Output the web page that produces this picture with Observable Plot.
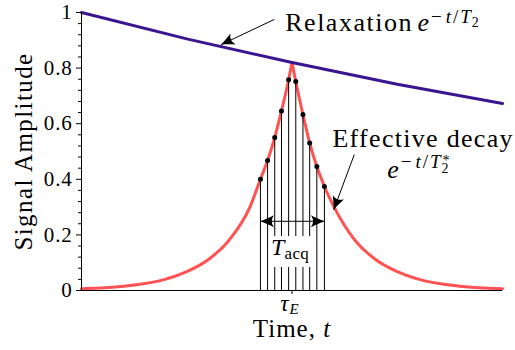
<!DOCTYPE html>
<html>
<head>
<meta charset="utf-8">
<script src="https://cdn.jsdelivr.net/npm/d3@7"></script>
<script src="https://cdn.jsdelivr.net/npm/@observablehq/plot@0.6"></script>
<style>
  body { margin: 0; background: #fff; }
</style>
</head>
<body>
<div id="chart"></div>
<script>
// Echo time (centre of the time axis, arbitrary units)
const tauE = 5;

// Slow T2 relaxation envelope
const relaxT = [0, 2.5, 5, 7.5, 10];
const relaxV = [1, 0.905, 0.82, 0.742, 0.673];

// Effective T2* signal: refocusing up to the echo, then decaying
const riseT = [0, 1, 2, 2.5, 3, 3.5, 4, 4.25, 4.42, 4.59, 4.75, 4.92, 5];
const riseV = [0.006, 0.015, 0.041, 0.068, 0.11, 0.18, 0.30, 0.40, 0.468, 0.55, 0.646, 0.758, 0.82];
const fallT = [5, 5.09, 5.26, 5.42, 5.59, 5.77, 6, 6.5, 7, 7.5, 8, 9, 10];
const fallV = [0.82, 0.752, 0.633, 0.531, 0.446, 0.374, 0.30, 0.18, 0.11, 0.068, 0.041, 0.015, 0.006];

// Samples taken during the acquisition window T_acq
const sampleT = [4.25, 4.42, 4.59, 4.75, 4.92, 5.09, 5.26, 5.42, 5.59, 5.77];
const sampleV = [0.40, 0.468, 0.55, 0.646, 0.758, 0.752, 0.633, 0.531, 0.446, 0.374];

// Amplitude axis ticks
const yTicks = [0, 0.2, 0.4, 0.6, 0.8, 1];
const yMinor = [0.04, 0.08, 0.12, 0.16, 0.24, 0.28, 0.32, 0.36, 0.44, 0.48, 0.52, 0.56,
                0.64, 0.68, 0.72, 0.76, 0.84, 0.88, 0.92, 0.96];

const relax = relaxT.map((t, i) => ({t, v: relaxV[i]}));
const decay = [
  ...riseT.map((t, i) => ({t, v: riseV[i], side: "rise"})),
  ...fallT.map((t, i) => ({t, v: fallV[i], side: "fall"}))
];
const samples = sampleT.map((t, i) => ({t, v: sampleV[i]}));

const serif = "'Liberation Serif', 'Times New Roman', serif";
const red = "#ff5252";
const indigo = "#3b148f";
const acqMid = 5.01;
const acqY = 0.249;

const at = (v) => () => v;
const label = (x, y, text, opts = {}) =>
  Plot.text([0], {x: at(x), y: at(y), text: at(text), textAnchor: "start", lineAnchor: "bottom", ...opts});

const svg = Plot.plot({
  width: 515,
  height: 350,
  marginLeft: 81,
  marginRight: 13,
  marginTop: 12,
  marginBottom: 60,
  x: {domain: [0, 10], label: null},
  y: {domain: [0, 1], label: null},
  style: {fontSize: "21px", color: "black", background: "white"},
  marks: [
    // T2* decay curve (two branches so the echo peak stays sharp)
    Plot.line(decay, {x: "t", y: "v", z: "side", stroke: red, strokeWidth: 3, curve: "monotone-x"}),
    // sample stems and points
    Plot.ruleX(samples, {x: "t", y1: 0, y2: "v", stroke: "black", strokeWidth: 1}),
    Plot.dot(samples, {x: "t", y: "v", r: 2.5, fill: "black"}),
    // label box for T_acq
    Plot.rect([0], {x1: at(4.47), x2: at(5.5), y1: at(0.083), y2: at(0.194), fill: "white"}),
    label(4.5, 0.126, "Tacq", {fontSize: 24}),
    // double arrow spanning the acquisition window
    Plot.link([0], {x1: at(acqMid), x2: at(sampleT[0]), y1: at(acqY), y2: at(acqY), stroke: "black", strokeWidth: 1}),
    Plot.link([0], {x1: at(acqMid), x2: at(sampleT[sampleT.length - 1]), y1: at(acqY), y2: at(acqY), stroke: "black", strokeWidth: 1}),
    // T2 relaxation envelope
    Plot.line(relax, {x: "t", y: "v", stroke: indigo, strokeWidth: 3}),
    // axes
    Plot.axisY({ticks: yMinor, tickSize: 3, tickFormat: () => "", label: null}),
    Plot.axisY({ticks: yTicks, tickSize: 5, tickPadding: 4, tickFormat: (d) => String(d), label: null, fontSize: 21}),
    Plot.axisX({ticks: [tauE], tickSize: 4, tickFormat: () => "", label: null}),
    Plot.ruleX([0], {stroke: "black", strokeWidth: 1}),
    Plot.ruleY([0], {stroke: "black", strokeWidth: 1}),
    // annotations
    label(4.84, 0.933, "Relaxation", {fontSize: 26}),
    label(7.98, 0.933, "e−t/T2", {fontSize: 26}),
    label(5.96, 0.515, "Effective decay", {fontSize: 26}),
    label(7.26, 0.403, "e−t/T2*", {fontSize: 26}),
    Plot.link([0], {x1: at(4.58), y1: at(0.975), x2: at(3.31), y2: at(0.884), stroke: "black", strokeWidth: 1}),
    Plot.link([0], {x1: at(6.48), y1: at(0.489), x2: at(5.99), y2: at(0.29), stroke: "black", strokeWidth: 1}),
    // axis titles
    label(4.72, -0.074, "τE", {fontSize: 23}),
    label(tauE, -0.168, "Time, t", {fontSize: 25, textAnchor: "middle"}),
    Plot.text([0], {frameAnchor: "left", y: at(0.5), text: at("Signal Amplitude"), rotate: -90,
      textAnchor: "middle", lineAnchor: "middle", dx: -58, fontSize: 25})
  ]
});

const NS = "http://www.w3.org/2000/svg";

// Serif face throughout, set on each text so it wins over the default stylesheet
for (const text of svg.querySelectorAll("text")) {
  text.setAttribute("font-family", serif);
  text.style.fontFamily = serif;
}
svg.querySelectorAll('g[aria-label="y-axis tick label"] text').forEach((t) => t.setAttribute("letter-spacing", 0.8));

// Replace a text's plain content with styled runs (italics, super/subscripts)
function rich(plain, parts, spacing) {
  for (const text of svg.querySelectorAll("text")) {
    if (text.textContent !== plain) continue;
    text.textContent = "";
    if (spacing != null) text.setAttribute("letter-spacing", spacing);
    let shift = 0;
    for (const p of parts) {
      const ts = document.createElementNS(NS, "tspan");
      ts.textContent = p.s;
      if (p.i) ts.setAttribute("font-style", "italic");
      if (p.size) ts.setAttribute("font-size", p.size);
      const up = p.up || 0;
      if (up !== shift) ts.setAttribute("dy", shift - up);
      shift = up;
      if (p.dx) ts.setAttribute("dx", p.dx);
      text.appendChild(ts);
    }
  }
}

rich("Relaxation", [{s: "Relaxation"}], 1.5);
rich("Effective decay", [{s: "Effective decay"}], 1.3);
rich("e−t/T2", [
  {s: "e", i: true},
  {s: "−", size: 19, up: 8, dx: 1},
  {s: "t", i: true, size: 19, up: 8, dx: 3},
  {s: "/", size: 19, up: 8, dx: 1},
  {s: "T", i: true, size: 19, up: 8, dx: 1},
  {s: "2", size: 14, up: 4.5}
], 1);
rich("e−t/T2*", [
  {s: "e", i: true},
  {s: "−", size: 19, up: 10, dx: 1},
  {s: "t", i: true, size: 19, up: 10, dx: 3},
  {s: "/", size: 19, up: 10, dx: 1},
  {s: "T", i: true, size: 19, up: 10, dx: 1},
  {s: "2", size: 14, up: 5},
  {s: "*", size: 14, up: 13, dx: -7}
], 1);
rich("τE", [{s: "τ", i: true}, {s: "E", i: true, size: 15, up: -3, dx: 1}], 0);
rich("Time, t", [{s: "Time, "}, {s: "t", i: true}], 1);
rich("Signal Amplitude", [{s: "Signal Amplitude"}], 1.4);
rich("Tacq", [{s: "T", i: true}, {s: "acq", size: 17, up: -4}], 0.3);

// Stealth-style arrowheads on every annotation link
const defs = document.createElementNS(NS, "defs");
const marker = document.createElementNS(NS, "marker");
marker.setAttribute("id", "stealth");
marker.setAttribute("viewBox", "-15 -8 17 16");
marker.setAttribute("markerWidth", 17);
marker.setAttribute("markerHeight", 16);
marker.setAttribute("refX", 0);
marker.setAttribute("refY", 0);
marker.setAttribute("markerUnits", "userSpaceOnUse");
marker.setAttribute("orient", "auto");
const head = document.createElementNS(NS, "path");
head.setAttribute("d", "M0,0 C-4,-1.3 -9,-3.8 -13.5,-6 Q-9,0 -13.5,6 C-9,3.8 -4,1.3 0,0 Z");
head.setAttribute("fill", "black");
head.setAttribute("stroke", "none");
marker.appendChild(head);
defs.appendChild(marker);
svg.insertBefore(defs, svg.firstChild);

svg.querySelectorAll('g[aria-label="link"] path').forEach((p) => p.setAttribute("marker-end", "url(#stealth)"));

document.getElementById("chart").appendChild(svg);
</script>
</body>
</html>
